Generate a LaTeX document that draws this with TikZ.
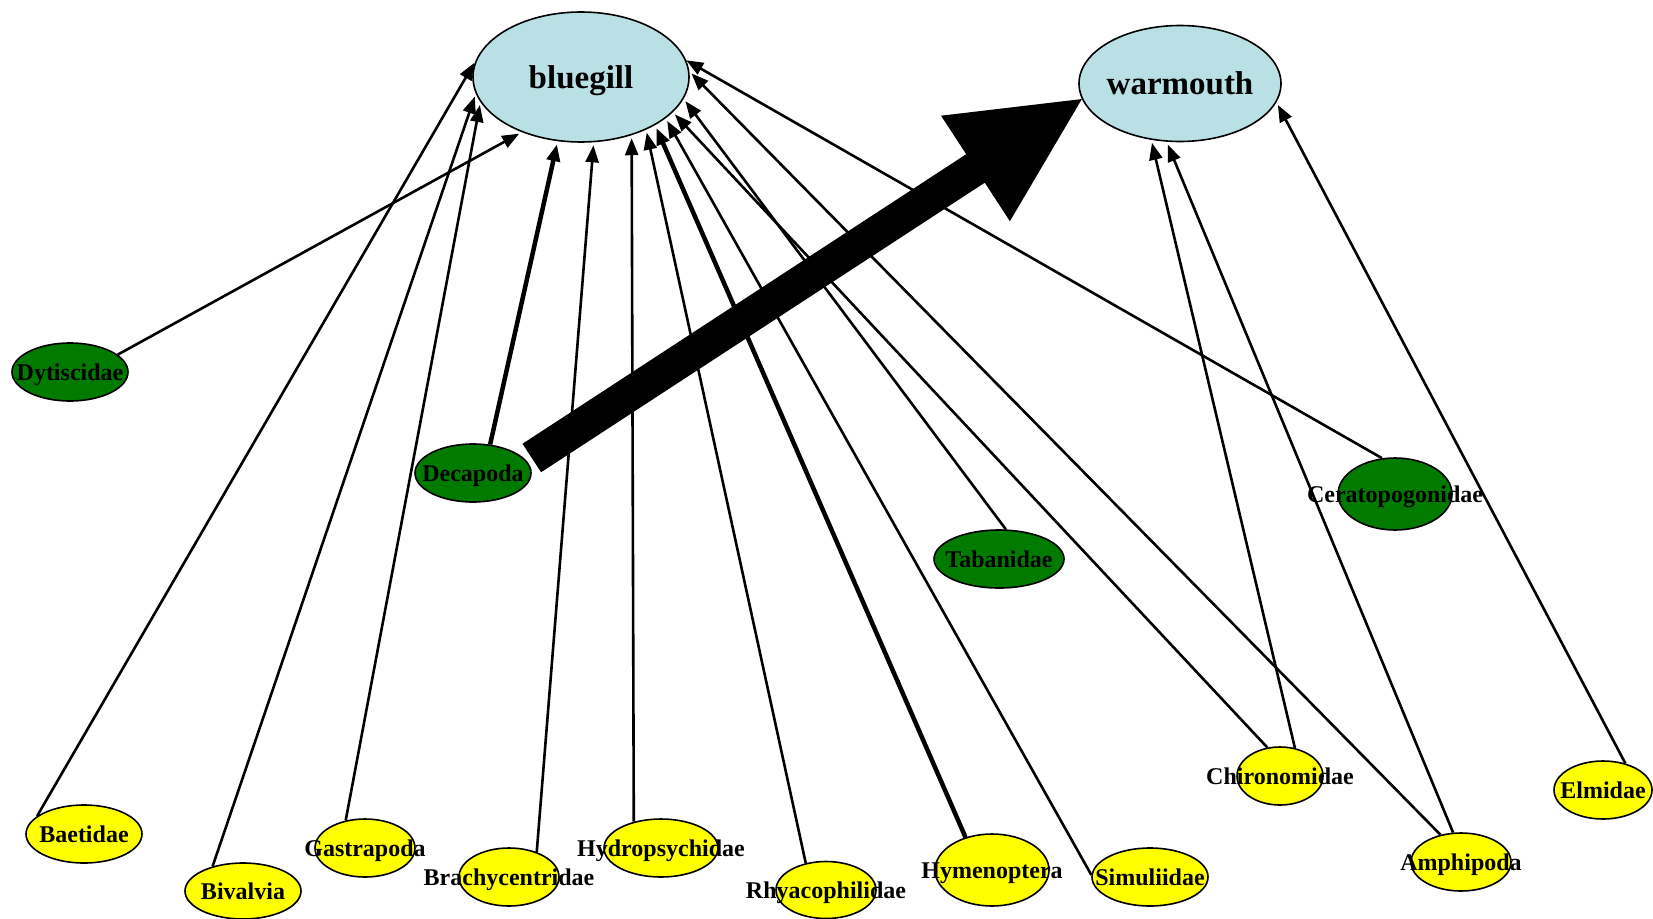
\documentclass[tikz,border=0pt]{standalone}
\usepackage{fontspec}
\setmainfont{Liberation Serif}
\usetikzlibrary{shapes.geometric,arrows.meta,calc}
\definecolor{predfill}{RGB}{185,224,228}
\definecolor{preygreen}{RGB}{0,123,0}
\definecolor{preyyellow}{RGB}{255,255,0}
\newcommand{\lbl}[1]{\makebox[0pt]{\rule[-0.216em]{0pt}{1.107em}#1}}
\begin{document}
\begin{tikzpicture}[x=1pt,y=-1pt,
  taxon/.style={ellipse, draw=black, line width=1.6pt, inner sep=0pt,
    font=\bfseries\fontsize{24pt}{24pt}\selectfont},
  pred/.style={ellipse, draw=black, line width=1.6pt, fill=predfill, inner sep=0pt,
    font=\bfseries\fontsize{33pt}{33pt}\selectfont},
  grn/.style={taxon, fill=preygreen},
  ylw/.style={taxon, fill=preyyellow},
  feed/.style={line width=2.6pt, -{Triangle[length=17pt,width=13pt]}, shorten >=3pt},
  feedthick/.style={feed, line width=4.5pt},
]
\fill[white] (0,0) rectangle (1653,918);
\useasboundingbox (0,0) rectangle (1653,918);

% predators
\node[pred, minimum width=216pt, minimum height=130pt] (bluegill) at (581,77) {\lbl{bluegill}};
\node[pred, minimum width=202pt, minimum height=116pt] (warmouth) at (1180,83.5) {\lbl{warmouth}};

% green prey
\node[grn, minimum width=116pt, minimum height=58pt] (Dytiscidae) at (70,372) {\lbl{Dytiscidae}};
\node[grn, minimum width=116pt, minimum height=58pt] (Decapoda) at (473,473) {\lbl{Decapoda}};
\node[grn, minimum width=130pt, minimum height=58pt] (Tabanidae) at (999,559) {\lbl{Tabanidae}};
\node[grn, minimum width=114pt, minimum height=72pt] (Ceratopogonidae) at (1395,494) {\lbl{Ceratopogonidae}};

% yellow prey
\node[ylw, minimum width=116pt, minimum height=58pt] (Baetidae) at (84,834) {\lbl{Baetidae}};
\node[ylw, minimum width=116pt, minimum height=56pt] (Bivalvia) at (243,891) {\lbl{Bivalvia}};
\node[ylw, minimum width=100pt, minimum height=58pt] (Gastrapoda) at (365,848) {\lbl{Gastrapoda}};
\node[ylw, minimum width=100pt, minimum height=58pt] (Brachycentridae) at (509,877) {\lbl{Brachycentridae}};
\node[ylw, minimum width=114pt, minimum height=58pt] (Hydropsychidae) at (661,848) {\lbl{Hydropsychidae}};
\node[ylw, minimum width=100pt, minimum height=57pt] (Rhyacophilidae) at (826,890) {\lbl{Rhyacophilidae}};
\node[ylw, minimum width=114pt, minimum height=72pt] (Hymenoptera) at (992,870) {\lbl{Hymenoptera}};
\node[ylw, minimum width=116pt, minimum height=58pt] (Simuliidae) at (1150,877) {\lbl{Simuliidae}};
\node[ylw, minimum width=86pt, minimum height=58pt] (Chironomidae) at (1280,776) {\lbl{Chironomidae}};
\node[ylw, minimum width=100pt, minimum height=58pt] (Amphipoda) at (1461,862) {\lbl{Amphipoda}};
\node[ylw, minimum width=98pt, minimum height=58pt] (Elmidae) at (1603,790) {\lbl{Elmidae}};

% feeding links to bluegill
\draw[feed] (Dytiscidae.20.8) -- (bluegill.223.5);
\draw[feed] (Baetidae.159.6) -- (bluegill.171.4);
\draw[feed] (Bivalvia.141.1) -- (bluegill.189);
\draw[feed] (Gastrapoda.125.9) -- (bluegill.194.4);
\draw[feedthick] (Decapoda.59.6) -- (bluegill.250.8);
\draw[feed] (Brachycentridae.42) -- (bluegill.281.3);
\draw[feed] (Hydropsychidae.136) -- (bluegill.311.8);
\draw[feed] (Rhyacophilidae.127.1) -- (bluegill.321);
\draw[feedthick] (Hymenoptera.129.4) -- (bluegill.327);
\draw[feed] (Simuliidae.178) -- (bluegill.334);
\draw[feed] (Tabanidae.77) -- (bluegill.348);
\draw[feed] (Chironomidae.114.1) -- (bluegill.339);
\draw[feed] (Amphipoda.127.9) -- (bluegill.3);
\draw[feed, shorten >=0pt] (Ceratopogonidae.110.4) -- (bluegill.9.6);

% feeding links to warmouth
\draw[feed] (Chironomidae.62.6) -- (warmouth.243.2);
\draw[feed] (Amphipoda.105) -- (warmouth.257.9);
\draw[feed] (Elmidae.50.7) -- (warmouth.349.7);

% big arrow from Decapoda to warmouth
\coordinate (bigtail) at ($(Decapoda.east)+(0,-15)$);
\coordinate (bigtip) at (warmouth.189.1);
\coordinate (bigbase) at ($(bigtip)!127pt!(bigtail)$);
\fill[black] ($(bigtail)!17pt!90:(bigtip)$)
  -- ($(bigbase)!17pt!90:(bigtip)$)
  -- ($(bigbase)!63pt!90:(bigtip)$)
  -- (bigtip)
  -- ($(bigbase)!63pt!-90:(bigtip)$)
  -- ($(bigbase)!17pt!-90:(bigtip)$)
  -- ($(bigtail)!17pt!-90:(bigtip)$)
  -- cycle;
\end{tikzpicture}
\end{document}
